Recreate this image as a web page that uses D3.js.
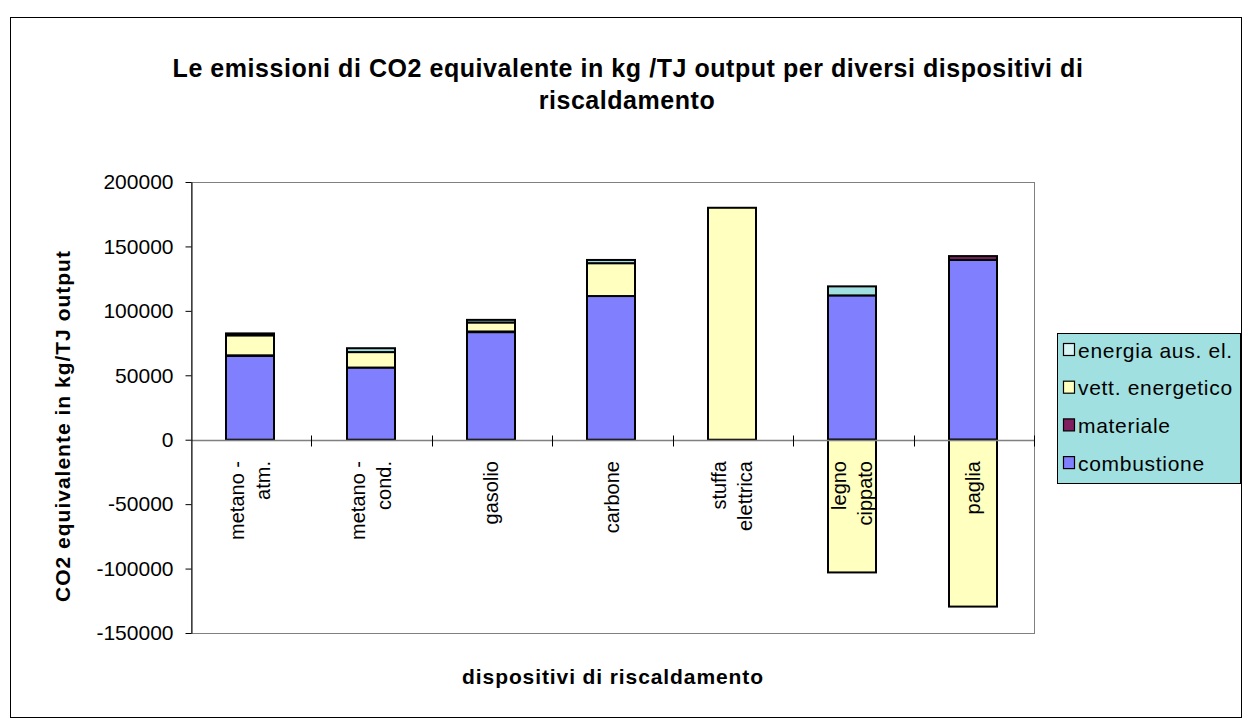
<!DOCTYPE html>
<meta charset="utf-8">
<head>
<style>
body { margin: 0; background: #fff; font-family: Arial, 'Liberation Sans', sans-serif; }
.title { font-size: 25px; font-weight: bold; }
.atitle { font-size: 21px; font-weight: bold; }
</style>
</head>
<body>
<div id="chart"></div>
<script src="https://d3js.org/d3.v7.min.js"></script>
<script>

var categories = [["metano -", "atm."], ["metano -", "cond."], ["gasolio"], ["carbone"],
                  ["stuffa", "elettrica"], ["legno", "cippato"], ["paglia"]];
var seriesNames = ["combustione", "materiale", "vett. energetico", "energia aus. el."];
var combustione = [65000, 56000, 83500, 111500, 0, 112000, 139500];
var materiale   = [500, 0, 500, 0, 0, 0, 3000];
var vettEnerg   = [15500, 12000, 7000, 25500, 180000, -103000, -129500];
var energiaAus  = [1500, 3000, 2000, 2500, 0, 7000, 0];
var yTicks = [-150000, -100000, -50000, 0, 50000, 100000, 150000, 200000];
var colors = ["#8080ff", "#7f1f5f", "#ffffc0", "#a0e0e0"];

var seriesData = [combustione, materiale, vettEnerg, energiaAus];

var W = 1249, H = 727;
var plot = {left: 191, top: 182, right: 1034, bottom: 633};

var svg = d3.select("#chart").append("svg")
    .attr("width", W)
    .attr("height", H)
    .style("font-family", "Arial, 'Liberation Sans', sans-serif");

// outer frame
svg.append("rect")
    .attr("x", 10.5).attr("y", 17.5)
    .attr("width", 1231).attr("height", 700)
    .attr("fill", "#fff").attr("stroke", "#000");

svg.append("text").attr("class", "title")
    .attr("x", 628).attr("y", 77).attr("text-anchor", "middle")
    .attr("letter-spacing", 0.55)
    .text("Le emissioni di CO2 equivalente in kg /TJ output per diversi dispositivi di");
svg.append("text").attr("class", "title")
    .attr("x", 627).attr("y", 109).attr("text-anchor", "middle")
    .attr("letter-spacing", 0.55)
    .text("riscaldamento");

var x = d3.scaleBand()
    .domain(d3.range(categories.length))
    .range([plot.left, plot.right])
    .paddingInner(0.6)
    .paddingOuter(0.3);

var y = d3.scaleLinear()
    .domain([-150000, 200000])
    .range([plot.bottom, plot.top]);

// plot area
svg.append("rect")
    .attr("x", plot.left + 0.5).attr("y", plot.top + 0.5)
    .attr("width", plot.right - plot.left).attr("height", plot.bottom - plot.top)
    .attr("fill", "#fff").attr("stroke", "#808080");

// stacked bars: positives up, negatives down
var stacks = [];
categories.forEach(function(c, i) {
  var pos = 0, neg = 0;
  seriesData.forEach(function(s, k) {
    var v = s[i];
    if (v === 0) return;
    if (v > 0) { stacks.push({i: i, k: k, y0: pos, y1: pos + v}); pos += v; }
    else { stacks.push({i: i, k: k, y0: neg, y1: neg + v}); neg += v; }
  });
});

svg.append("g").selectAll("rect")
    .data(stacks)
  .enter().append("rect")
    .attr("x", function(d) { return Math.round(x(d.i)) - 1; })
    .attr("width", Math.round(x.bandwidth()))
    .attr("y", function(d) { return y(Math.max(d.y0, d.y1)); })
    .attr("height", function(d) { return Math.abs(y(d.y0) - y(d.y1)); })
    .attr("fill", function(d) { return colors[d.k]; })
    .attr("stroke", "#000")
    .attr("stroke-width", 2);

// x axis at zero
var y0 = Math.round(y(0)) + 0.5;
svg.append("line")
    .attr("x1", plot.left).attr("x2", plot.right)
    .attr("y1", y0).attr("y2", y0)
    .attr("stroke", "#808080").attr("stroke-width", 1.5);
var step = (plot.right - plot.left) / categories.length;
svg.append("g").selectAll("line")
    .data(d3.range(1, categories.length + 1))
  .enter().append("line")
    .attr("x1", function(d) { return Math.round(plot.left + d * step) + 0.5; })
    .attr("x2", function(d) { return Math.round(plot.left + d * step) + 0.5; })
    .attr("y1", y0 - 5).attr("y2", y0 + 6)
    .attr("stroke", "#000");

// category labels, rotated
var lab = svg.append("g").attr("font-size", 20);
categories.forEach(function(c, i) {
  var cx = x(i) + x.bandwidth() / 2 - 1;
  var n = c.length;
  c.forEach(function(line, j) {
    var lx = cx + (j - (n - 1) / 2) * 26 + 7;
    lab.append("text")
        .attr("transform", "translate(" + lx + "," + 461 + ") rotate(-90)")
        .attr("text-anchor", "end")
        .text(line);
  });
});

// y axis
var yAxis = d3.axisLeft(y)
    .tickValues(yTicks)
    .tickSizeInner(6)
    .tickSizeOuter(0)
    .tickPadding(12)
    .tickFormat(function(d) { return String(d); });

var ga = svg.append("g")
    .attr("transform", "translate(" + (plot.left + 0.5) + ",0)")
    .call(yAxis);
ga.selectAll("line").attr("stroke", "#000");
ga.select(".domain").attr("stroke", "#000");
ga.selectAll("text")
    .attr("font-family", "Arial, 'Liberation Sans', sans-serif")
    .attr("font-size", 21)
    .attr("fill", "#000");

svg.append("text").attr("class", "atitle")
    .attr("transform", "translate(70,426) rotate(-90)")
    .attr("text-anchor", "middle")
    .attr("letter-spacing", 1)
    .text("CO2 equivalente in kg/TJ output");

svg.append("text").attr("class", "atitle")
    .attr("x", 613).attr("y", 684).attr("text-anchor", "middle")
    .attr("letter-spacing", 0.9)
    .text("dispositivi di riscaldamento");

// legend
var lg = svg.append("g");
lg.append("rect")
    .attr("x", 1057.5).attr("y", 333.5)
    .attr("width", 183).attr("height", 150)
    .attr("fill", "#a0e0e0").attr("stroke", "#000");
var legendOrder = [3, 2, 1, 0];
legendOrder.forEach(function(k, r) {
  var ry = 350 + r * 37.7;
  lg.append("rect")
      .attr("x", 1063.5).attr("y", ry - 6.5)
      .attr("width", 11).attr("height", 12)
      .attr("fill", k === 3 ? "#d8f4f4" : colors[k])
      .attr("stroke", "#000").attr("stroke-width", 1.2);
  lg.append("text")
      .attr("x", 1078).attr("y", ry + 7.5)
      .attr("font-size", 21)
      .attr("letter-spacing", 0.7)
      .text(seriesNames[k]);
});

</script>
</body>
